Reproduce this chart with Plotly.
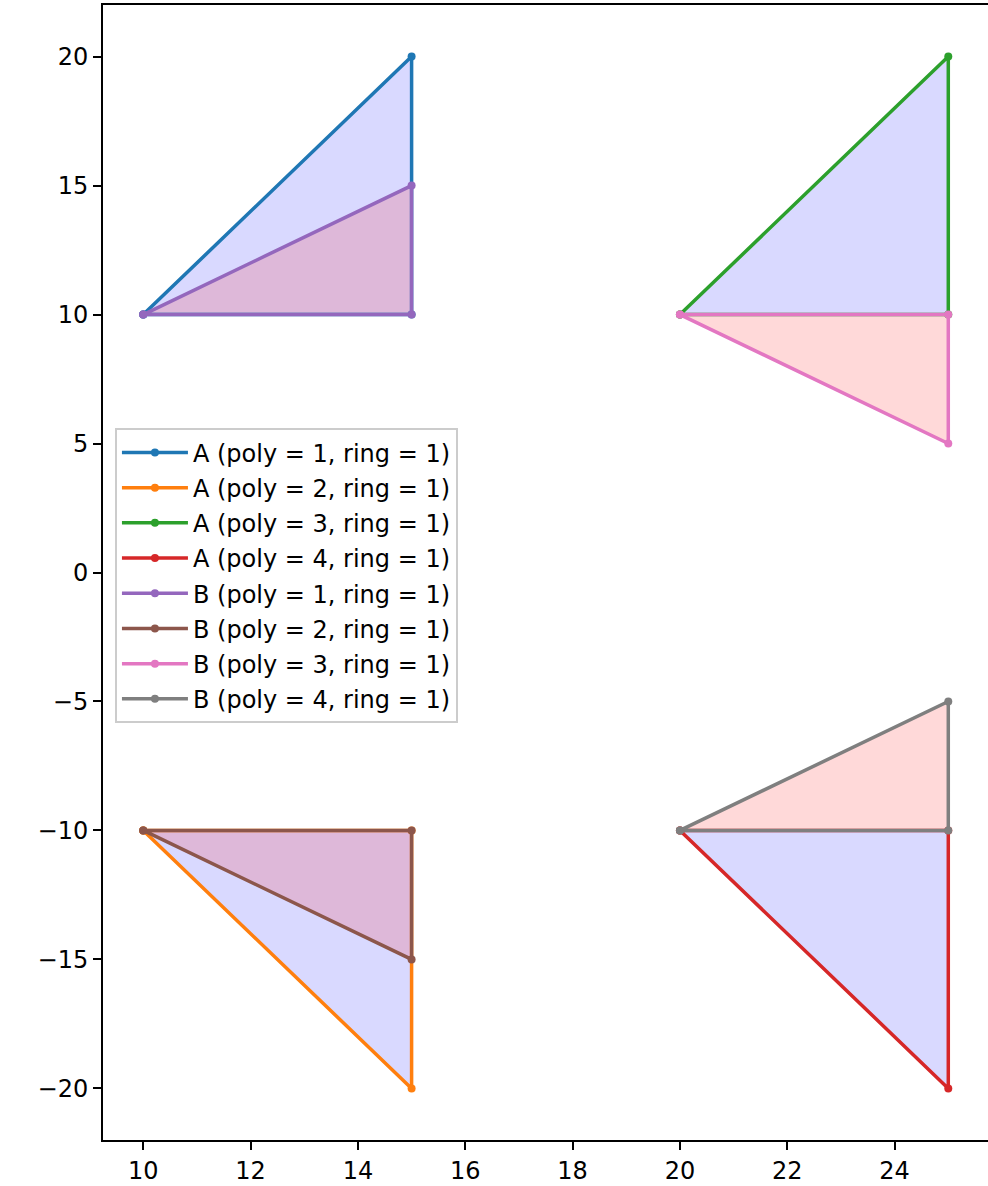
import plotly.graph_objects as go

# Polygon data: closed rings (first vertex repeated)
names = [
    "A (poly = 1, ring = 1)", "A (poly = 2, ring = 1)",
    "A (poly = 3, ring = 1)", "A (poly = 4, ring = 1)",
    "B (poly = 1, ring = 1)", "B (poly = 2, ring = 1)",
    "B (poly = 3, ring = 1)", "B (poly = 4, ring = 1)",
]
xs = [
    [10, 15, 15, 10], [10, 15, 15, 10], [20, 25, 25, 20], [20, 25, 25, 20],
    [10, 15, 15, 10], [10, 15, 15, 10], [20, 25, 25, 20], [20, 25, 25, 20],
]
ys = [
    [10, 10, 20, 10], [-10, -10, -20, -10], [10, 10, 20, 10], [-10, -10, -20, -10],
    [10, 10, 15, 10], [-10, -10, -15, -10], [10, 10, 5, 10], [-10, -10, -5, -10],
]
groups = ["A", "A", "A", "A", "B", "B", "B", "B"]
line_colors = ["#1f77b4", "#ff7f0e", "#2ca02c", "#d62728",
               "#9467bd", "#8c564b", "#e377c2", "#7f7f7f"]
fill_colors = {"A": "rgba(0,0,255,0.15)", "B": "rgba(255,0,0,0.15)"}

x_ticks = [10, 12, 14, 16, 18, 20, 22, 24]
y_ticks = [-20, -15, -10, -5, 0, 5, 10, 15, 20]
y_tick_text = [("\u2212" + str(-v)) if v < 0 else str(v) for v in y_ticks]

FONT = "DejaVu Sans"
fig = go.Figure()

# fills
for i in range(len(names)):
    fig.add_trace(go.Scatter(
        x=xs[i], y=ys[i], mode="none", fill="toself",
        fillcolor=fill_colors[groups[i]], showlegend=False, hoverinfo="skip",
    ))

# outlines with vertex markers
for i in range(len(names)):
    fig.add_trace(go.Scatter(
        x=xs[i], y=ys[i], mode="lines+markers", name=names[i],
        line=dict(color=line_colors[i], width=3.5),
        marker=dict(color=line_colors[i], size=8),
        legendgroup="g%d" % i,
    ))

fig.update_layout(
    width=988, height=1186,
    margin=dict(l=103, r=0, t=5, b=46),
    paper_bgcolor="white", plot_bgcolor="white",
    font=dict(family=FONT, size=24, color="black"),
    showlegend=True,
    legend=dict(
        x=0.0135, y=0.627, xanchor="left", yanchor="top",
        bgcolor="rgba(255,255,255,0.8)", bordercolor="#cccccc", borderwidth=2,
        font=dict(family=FONT, size=24, color="black"),
        tracegroupgap=1, itemwidth=66,
    ),
)
fig.update_xaxes(
    range=[9.25, 25.74], showgrid=False, zeroline=False,
    showline=True, linecolor="black", linewidth=2, mirror=True,
    ticks="outside", ticklen=8, tickwidth=2, tickcolor="black",
    tickvals=x_ticks, ticktext=[str(v) for v in x_ticks],
    tickfont=dict(family=FONT, size=24, color="black"),
)
fig.update_yaxes(
    range=[-22, 22], showgrid=False, zeroline=False,
    showline=True, linecolor="black", linewidth=2, mirror=False,
    ticks="outside", ticklen=8, tickwidth=2, tickcolor="black",
    tickvals=y_ticks, ticktext=y_tick_text,
    tickfont=dict(family=FONT, size=24, color="black"),
)

fig.write_html(
    "out.html",
    config={"displayModeBar": False},
    post_script="document.body.style.margin='0';document.body.style.overflow='hidden';",
)
